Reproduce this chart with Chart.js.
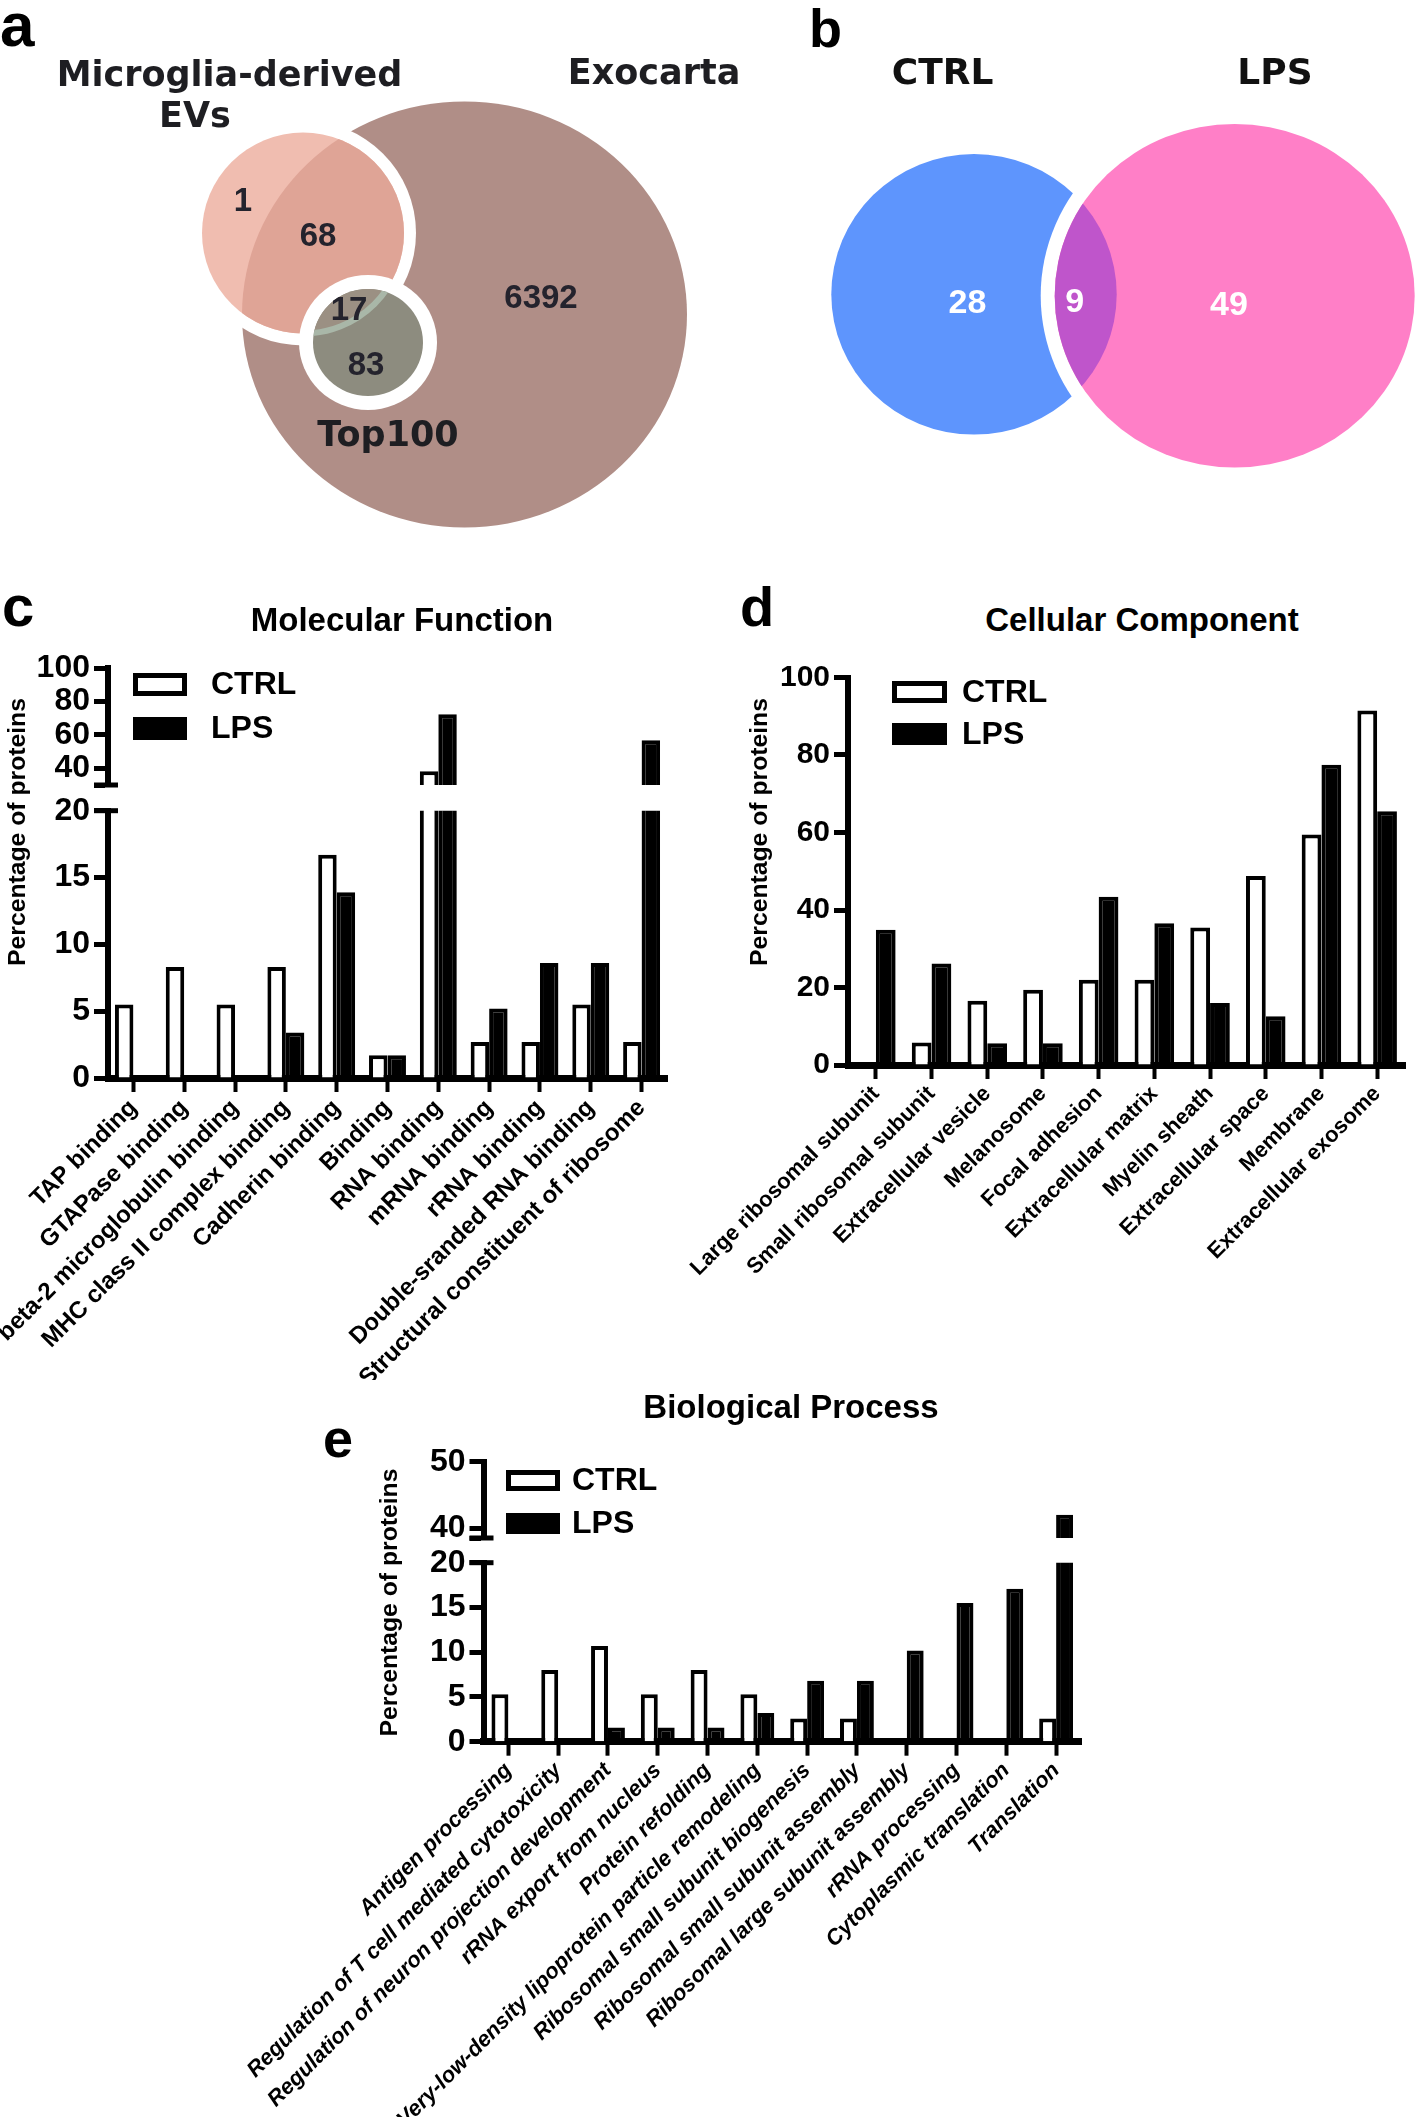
<!DOCTYPE html>
<html>
<head>
<meta charset="utf-8">
<title>Microglia EV proteome</title>
<script src="https://cdn.jsdelivr.net/npm/chart.js@4.4.1/dist/chart.umd.min.js"></script>
<style>
  html, body { margin: 0; padding: 0; background: #fff; }
  body { position: relative; width: 1418px; height: 2117px; overflow: hidden; font-family: "Liberation Sans", Arial, sans-serif; color: #000; }
  canvas { position: absolute; }
  .panel { position: absolute; font-weight: bold; line-height: 1; }
  .title { position: absolute; font-weight: bold; font-size: 33px; line-height: 1; white-space: nowrap; transform: translateX(-50%); }
</style>
</head>
<body>
<canvas id="vennA" width="760" height="560" style="left:0px;top:0px"></canvas>
<canvas id="vennB" width="658" height="560" style="left:760px;top:0px"></canvas>
<canvas id="mfTop" width="700" height="177" style="left:0px;top:628px"></canvas>
<canvas id="mfBottom" width="700" height="740" style="left:0px;top:640px"></canvas>
<canvas id="cc" width="778" height="700" style="left:640px;top:640px"></canvas>
<canvas id="bpTop" width="860" height="138" style="left:240px;top:1420px"></canvas>
<canvas id="bpBottom" width="860" height="677" style="left:240px;top:1440px"></canvas>

<div class="panel" style="left:0px;top:-6px;font-size:62px">a</div>
<div class="panel" style="left:809px;top:1px;font-size:54px">b</div>
<div class="panel" style="left:2px;top:577px;font-size:58px">c</div>
<div class="panel" style="left:740px;top:579px;font-size:56px">d</div>
<div class="panel" style="left:323px;top:1411px;font-size:54px">e</div>
<div class="title" style="left:402px;top:603px">Molecular Function</div>
<div class="title" style="left:1142px;top:603px">Cellular Component</div>
<div class="title" style="left:791px;top:1390px">Biological Process</div>

<script>
// Venn data
const vennASets = [['Microglia-derived', 'EVs'], ['Exocarta'], ['Top100']];
const vennACounts = [1, 68, 17, 83, 6392];
const vennBSets = ['CTRL', 'LPS'];
const vennBCounts = [28, 9, 49];

// Molecular Function (%)
const mfLabels = ['TAP binding', 'GTAPase binding', 'beta-2 microglobulin binding', 'MHC class II complex binding',
  'Cadherin binding', 'Binding', 'RNA binding', 'mRNA binding', 'rRNA binding', 'Double-sranded RNA binding',
  'Structural constituent of ribosome'];
const mfCtrl = [5.5, 8.3, 5.5, 8.3, 16.7, 1.7, 38.2, 2.7, 2.7, 5.5, 2.7];
const mfLps = [0, 0, 0, 3.4, 13.9, 1.7, 72.3, 5.2, 8.6, 8.6, 56.8];
const mfTicksTop = [30, 40, 60, 80, 100];
const mfTicksBottom = [0, 5, 10, 15, 20];

// Cellular Component (%)
const ccLabels = ['Large ribosomal subunit', 'Small ribosomal subunit', 'Extracellular vesicle', 'Melanosome',
  'Focal adhesion', 'Extracellular matrix', 'Myelin sheath', 'Extracellular space', 'Membrane', 'Extracellular exosome'];
const ccCtrl = [0, 5.8, 16.6, 19.4, 22.0, 22.0, 35.5, 48.8, 59.5, 91.5];
const ccLps = [34.9, 26.2, 5.6, 5.6, 43.4, 36.6, 16.0, 12.6, 77.5, 65.5];
const ccTicks = [0, 20, 40, 60, 80, 100];

// Biological Process (%)
const bpLabels = ['Antigen processing', 'Regulation of T cell mediated cytotoxicity',
  'Regulation of neuron projection development', 'rRNA export from nucleus', 'Protein refolding',
  'Very-low-density lipoprotein particle remodeling', 'Ribosomal small subunit biogenesis',
  'Ribosomal small subunit assembly', 'Ribosomal large subunit assembly', 'rRNA processing',
  'Cytoplasmic translation', 'Translation'];
const bpCtrl = [5.3, 8.0, 10.7, 5.3, 8.0, 5.3, 2.6, 2.6, 0, 0, 0, 2.6];
const bpLps = [0, 0, 1.6, 1.6, 1.6, 3.2, 6.8, 6.8, 10.2, 15.5, 17.1, 42.0];
const bpTicksTop = [38.5, 40, 50];
const bpTicksBottom = [0, 5, 10, 15, 20];

const FONT = '"Liberation Sans", Arial, sans-serif';

// Venn layout (canvas pixel units)
const vennAShapes = {
  exo: { x: 464.5, y: 314.5, rx: 222.5, ry: 213 },
  ev: { x: 303, y: 233, rx: 101, ry: 100.5 },
  top: { x: 368, y: 342.5, rx: 55, ry: 53.5 }
};
const vennAText = {
  names: [[[229.5, 86], [195, 127]], [[654, 84]], [[388, 446]]],
  counts: [[243, 211], [318, 246], [349, 320], [366, 375], [541, 308]]
};
const vennBShapes = {
  ctrl: { x: 214, y: 294.3, rx: 142.7, ry: 140.3 },
  lps: { x: 474.7, y: 295.8, rx: 180, ry: 171.8 }
};
const vennBText = {
  names: [[182.6, 84], [515, 84]],
  counts: [[207.5, 313], [314.8, 312], [469, 315]]
};

const vennScenes = {
  vennA(ctx, ell, text) {
    const { exo, ev, top } = vennAShapes;
    ctx.fillStyle = '#b08e87'; ell(exo); ctx.fill();
    ctx.fillStyle = '#ffffff'; ell(ev, 12); ctx.fill();
    ctx.fillStyle = '#f0bdb0'; ell(ev); ctx.fill();
    ctx.save(); ell(ev); ctx.clip();
    ctx.fillStyle = '#dfa496'; ell(exo); ctx.fill();
    ctx.restore();
    ctx.fillStyle = '#ffffff'; ell(top, 14); ctx.fill();
    ctx.fillStyle = '#8d8c7f'; ell(top); ctx.fill();
    ctx.save(); ell(top); ctx.clip();
    ctx.fillStyle = '#9b9083'; ell(ev); ctx.fill();
    ctx.strokeStyle = '#a9b7a8'; ctx.lineWidth = 6; ell(ev); ctx.stroke();
    ctx.restore();

    vennASets.forEach((lines, i) => {
      lines.forEach((t, j) => {
        const p = vennAText.names[i][j];
        text(t, p[0], p[1], 'bold 35px "DejaVu Sans"', '#1e1e22');
      });
    });
    vennACounts.forEach((n, i) => {
      const p = vennAText.counts[i];
      text(String(n), p[0], p[1], 'bold 33px ' + FONT, '#24232d');
    });
  },
  vennB(ctx, ell, text) {
    const { ctrl, lps } = vennBShapes;
    ctx.fillStyle = '#5e95fd'; ell(ctrl); ctx.fill();
    ctx.fillStyle = '#ffffff'; ell(lps, 14); ctx.fill();
    ctx.fillStyle = '#ff7fc7'; ell(lps); ctx.fill();
    ctx.save(); ell(lps); ctx.clip();
    ctx.fillStyle = '#bf55cb'; ell(ctrl); ctx.fill();
    ctx.restore();

    vennBSets.forEach((t, i) => {
      const p = vennBText.names[i];
      text(t, p[0], p[1], 'bold 36px "DejaVu Sans"', '#111111');
    });
    vennBCounts.forEach((n, i) => {
      const p = vennBText.counts[i];
      text(String(n), p[0], p[1], 'bold 34px ' + FONT, '#ffffff');
    });
  }
};

// draws the Venn shapes through the chart's x/y scales
const vennPlugin = {
  id: 'venn',
  afterDraw(chart) {
    const draw = vennScenes[chart.canvas.id];
    if (!draw) return;
    const xs = chart.scales.x, ys = chart.scales.y, ctx = chart.ctx;
    const ell = (s, grow = 0) => {
      const cx = xs.getPixelForValue(s.x), cy = ys.getPixelForValue(s.y);
      const rx = Math.abs(xs.getPixelForValue(s.x + s.rx) - cx) + grow;
      const ry = Math.abs(ys.getPixelForValue(s.y + s.ry) - cy) + grow;
      ctx.beginPath();
      ctx.ellipse(cx, cy, rx, ry, 0, 0, Math.PI * 2);
    };
    const text = (str, x, y, font, color) => {
      ctx.font = font;
      ctx.fillStyle = color;
      ctx.textAlign = 'center';
      ctx.textBaseline = 'alphabetic';
      ctx.fillText(str, xs.getPixelForValue(x), ys.getPixelForValue(y));
    };
    ctx.save();
    draw(ctx, ell, text);
    ctx.restore();
  }
};

function makeVenn(id) {
  const el = document.getElementById(id);
  return new Chart(el, {
    type: 'scatter',
    data: { datasets: [] },
    options: {
      responsive: false, animation: false, devicePixelRatio: 1,
      layout: { padding: 0 },
      plugins: { legend: { display: false }, tooltip: { enabled: false } },
      scales: {
        x: { type: 'linear', min: 0, max: el.width, display: false },
        y: { type: 'linear', min: 0, max: el.height, reverse: true, display: false }
      }
    },
    plugins: [vennPlugin]
  });
}

// legend drawn inside the plot area
const boxLegend = {
  id: 'boxLegend',
  afterDatasetsDraw(chart, args, o) {
    const { ctx, chartArea } = chart;
    ctx.save();
    chart.data.datasets.forEach((ds, i) => {
      const x = chartArea.left + o.dx, y = chartArea.top + o.dy + i * o.gap;
      ctx.fillStyle = ds.backgroundColor;
      ctx.fillRect(x, y, o.w, o.h);
      ctx.lineWidth = o.line;
      ctx.strokeStyle = ds.borderColor;
      ctx.strokeRect(x + o.line / 2, y + o.line / 2, o.w - o.line, o.h - o.line);
      ctx.fillStyle = '#000';
      ctx.font = o.font;
      ctx.textAlign = 'left';
      ctx.textBaseline = 'middle';
      ctx.fillText(ds.label, x + o.w + o.textGap, y + o.h / 2 + 1);
    });
    ctx.restore();
  }
};

// rotated y title, stretched along its length like the original
const sideTitle = {
  id: 'sideTitle',
  afterDraw(chart, args, o) {
    const ctx = chart.ctx;
    ctx.save();
    ctx.translate(o.x, o.y);
    ctx.rotate(-Math.PI / 2);
    ctx.scale(o.stretch, 1);
    ctx.font = o.font;
    ctx.fillStyle = '#000';
    ctx.textAlign = 'center';
    ctx.textBaseline = 'middle';
    ctx.fillText(o.text, 0, 0);
    ctx.restore();
  }
};

// end caps of the broken y axis
const axisCaps = {
  id: 'axisCaps',
  afterDraw(chart, args, o) {
    const ys = chart.scales.y, ctx = chart.ctx, x = chart.chartArea.left;
    ctx.save();
    ctx.strokeStyle = '#000';
    ctx.lineWidth = o.width;
    o.values.forEach(v => {
      const y = ys.getPixelForValue(v);
      ctx.beginPath();
      ctx.moveTo(x - o.left, y);
      ctx.lineTo(x + o.right, y);
      ctx.stroke();
    });
    ctx.restore();
  }
};

function makeBars(id, labels, ctrl, lps, o) {
  const plugins = [axisCaps, boxLegend, sideTitle].filter(p => o[p.id]);
  const pluginOpts = { legend: { display: false }, tooltip: { enabled: false } };
  plugins.forEach(p => { pluginOpts[p.id] = o[p.id]; });
  const barOpts = { borderWidth: 4, borderSkipped: 'start', categoryPercentage: o.cat, barPercentage: 1, clip: 0 };

  return new Chart(document.getElementById(id), {
    type: 'bar',
    data: {
      labels: labels,
      datasets: [
        Object.assign({ label: 'CTRL', data: ctrl, backgroundColor: '#ffffff', borderColor: '#000000' }, barOpts),
        Object.assign({ label: 'LPS', data: lps, backgroundColor: '#000000', borderColor: '#000000' }, barOpts)
      ]
    },
    options: {
      responsive: false, animation: false, devicePixelRatio: 1,
      layout: { padding: o.padding },
      plugins: pluginOpts,
      scales: {
        x: {
          display: o.showX,
          offset: true,
          grid: { drawOnChartArea: false, offset: false, tickLength: 14, tickWidth: 4, tickColor: '#000' },
          border: { color: '#000', width: 7 },
          ticks: { autoSkip: false, minRotation: 45, maxRotation: 45, padding: 2, color: '#000', font: o.xFont },
          afterFit: s => { s.height = o.xHeight || 0; }
        },
        y: {
          min: o.ticks[0],
          max: o.ticks[o.ticks.length - 1],
          afterBuildTicks: s => { s.ticks = o.ticks.map(v => ({ value: v })); },
          grid: { drawOnChartArea: false, tickLength: 14, tickWidth: 5, tickColor: '#000' },
          border: { color: '#000', width: 6 },
          ticks: {
            autoSkip: false, padding: 4, color: '#000',
            font: { family: FONT, size: o.tickSize, weight: 'bold', lineHeight: 1 },
            callback: v => (o.hideFirst && v === o.ticks[0]) ? '' : v
          },
          afterFit: s => { s.width = o.yWidth; }
        }
      }
    },
    plugins: plugins
  });
}

const aboveBreak = (vals, cut) => vals.map(v => v > cut ? v : null);
const legendFont = 'bold 32px ' + FONT;
const yTitle = 'Percentage of proteins';
const yTitleFont = 'bold 24px ' + FONT;

makeVenn('vennA');
makeVenn('vennB');

// c: Molecular Function (broken axis)
makeBars('mfTop', mfLabels, aboveBreak(mfCtrl, mfTicksTop[0]), aboveBreak(mfLps, mfTicksTop[0]), {
  showX: false, cat: 0.727, yWidth: 108, tickSize: 32, ticks: mfTicksTop, hideFirst: true,
  padding: { left: 0, right: 33, top: 40, bottom: 20 },
  axisCaps: { values: [mfTicksTop[0]], left: 14, right: 10, width: 5 },
  boxLegend: { dx: 25, dy: 5, gap: 44, w: 54, h: 23, line: 5, textGap: 24, font: legendFont }
});
makeBars('mfBottom', mfLabels, mfCtrl, mfLps, {
  showX: true, cat: 0.727, yWidth: 108, tickSize: 32, ticks: mfTicksBottom, xHeight: 302,
  xFont: { family: FONT, size: 24, weight: 'bold' },
  padding: { left: 0, right: 33, top: 170.7, bottom: 0 },
  axisCaps: { values: [mfTicksBottom[mfTicksBottom.length - 1]], left: 14, right: 10, width: 5 },
  sideTitle: { text: yTitle, x: 18, y: 192, font: yTitleFont, stretch: 1.03 }
});

// d: Cellular Component
makeBars('cc', ccLabels, ccCtrl, ccLps, {
  showX: true, cat: 0.71, yWidth: 208, tickSize: 30, ticks: ccTicks, xHeight: 275,
  xFont: { family: FONT, size: 22, weight: 'bold' },
  padding: { left: 0, right: 13, top: 37.5, bottom: 0 },
  boxLegend: { dx: 44, dy: 3.5, gap: 42, w: 55, h: 22, line: 5, textGap: 15, font: legendFont },
  sideTitle: { text: yTitle, x: 120, y: 192, font: yTitleFont, stretch: 1.03 }
});

// e: Biological Process (broken axis)
makeBars('bpTop', bpLabels, aboveBreak(bpCtrl, bpTicksTop[0]), aboveBreak(bpLps, bpTicksTop[0]), {
  showX: false, cat: 0.68, yWidth: 243.5, tickSize: 32, ticks: bpTicksTop, hideFirst: true,
  padding: { left: 0, right: 19, top: 41.7, bottom: 20 },
  axisCaps: { values: [bpTicksTop[0]], left: 14, right: 10, width: 5 },
  boxLegend: { dx: 22.5, dy: 8.3, gap: 43, w: 54, h: 21, line: 5, textGap: 12, font: legendFont }
});
makeBars('bpBottom', bpLabels, bpCtrl, bpLps, {
  showX: true, cat: 0.68, yWidth: 243.5, tickSize: 32, ticks: bpTicksBottom, xHeight: 375.3,
  xFont: { family: FONT, size: 22, weight: 'bold', style: 'italic' },
  padding: { left: 0, right: 19, top: 122.7, bottom: 0 },
  axisCaps: { values: [bpTicksBottom[bpTicksBottom.length - 1]], left: 14, right: 10, width: 5 },
  sideTitle: { text: yTitle, x: 150, y: 162.5, font: yTitleFont, stretch: 1.03 }
});
</script>
</body>
</html>
